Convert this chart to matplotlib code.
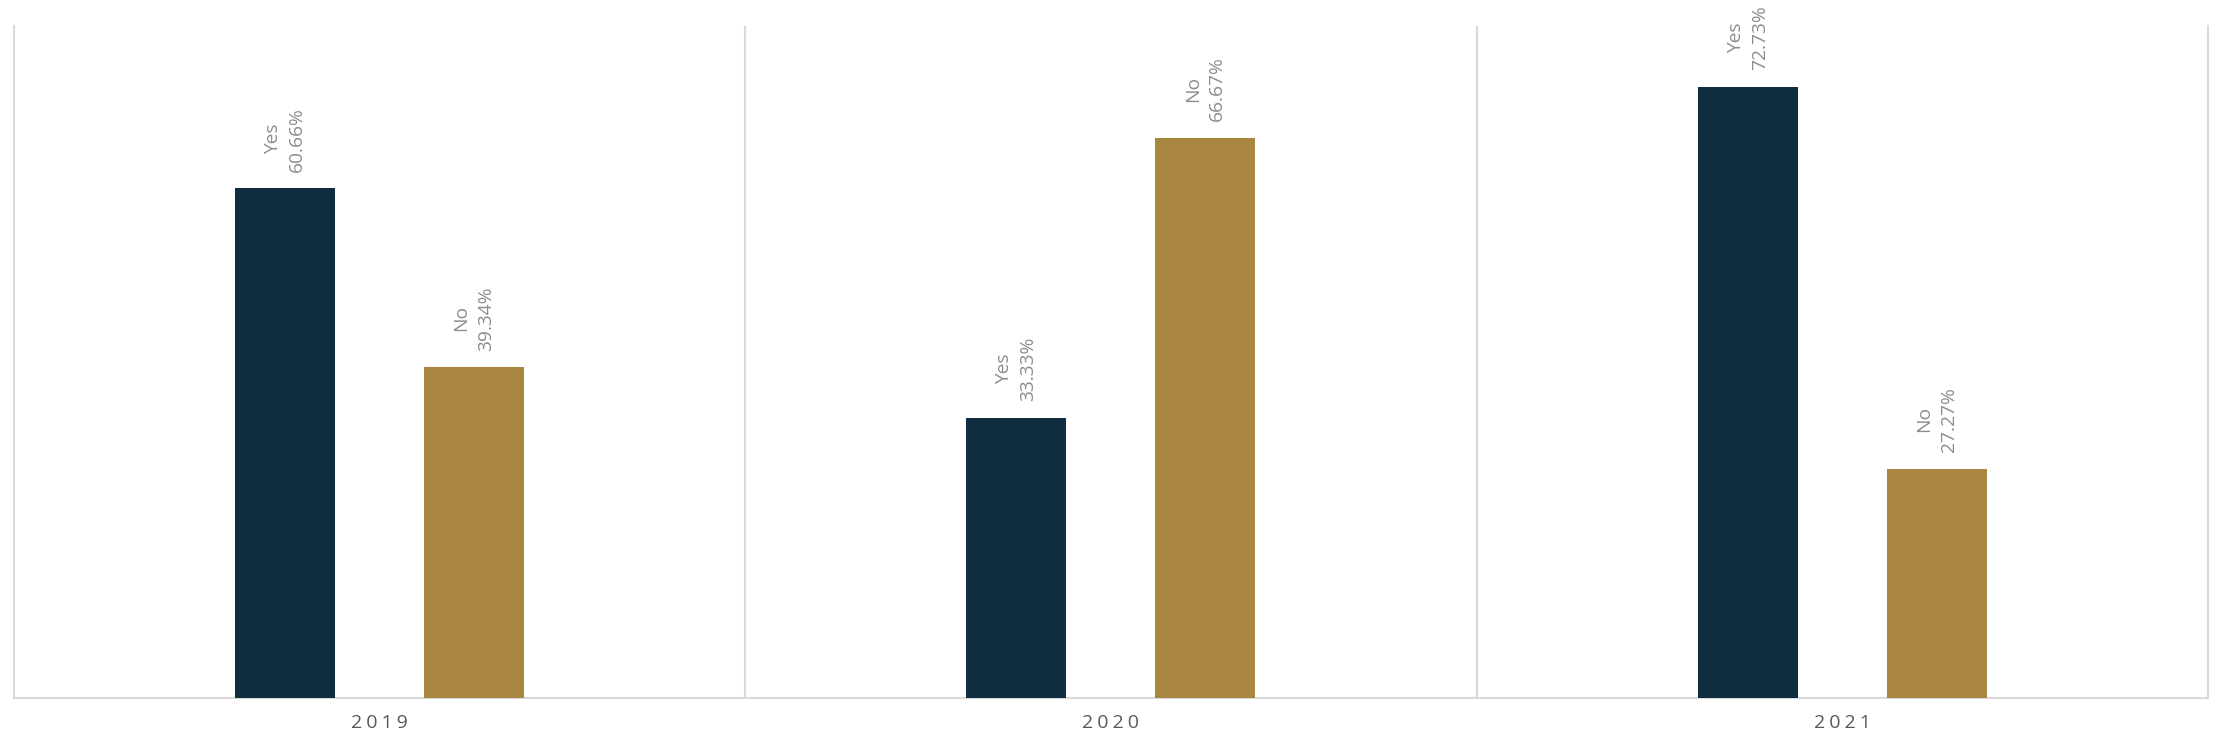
import matplotlib
matplotlib.use("Agg")
import matplotlib.pyplot as plt
import numpy as np

years = ["2019", "2020", "2021"]
series_names = ["Yes", "No"]
yes_values = [60.66, 33.33, 72.73]
no_values = [39.34, 66.67, 27.27]

navy = "#112E40"
gold = "#A98740"
label_color = "#8C8C8C"
grid_color = "#D9D9D9"

plt.rcParams['font.family'] = ['Open Sans', 'DejaVu Sans']

fig = plt.figure(figsize=(22.13, 7.38), dpi=100)
ax = fig.add_axes([13.5/2213, 1-697.5/738, (2208-13.5)/2213, (697.5-26)/738])

x = np.arange(len(years))
w = 0.137
off = 0.129
for vals, name, col, sgn in [(yes_values, series_names[0], navy, -1), (no_values, series_names[1], gold, 1)]:
    ax.bar(x + sgn*off, vals, width=w, color=col, zorder=3)
    for xi, v in zip(x, vals):
        ax.text(xi + sgn*off, v + 2.0, f"{name}\n{v:.2f}%", rotation=90,
                ha="center", va="bottom", fontsize=13.8, color=label_color,
                linespacing=1.45, clip_on=False)

ax.set_xlim(-0.5, 2.5)
ax.set_ylim(0, 80)
for s in [0.5, 1.5]:
    ax.axvline(s, color=grid_color, lw=1.5, zorder=1)
ax.spines["top"].set_visible(False)
for side in ["left", "right", "bottom"]:
    ax.spines[side].set_color(grid_color)
    ax.spines[side].set_linewidth(1.5)
ax.set_yticks([])
ax.set_xticks(x)
ax.set_xticklabels(["\u200a\u200a".join(list(y)) for y in years], fontsize=14, color="#595959")
ax.tick_params(axis="x", length=0, pad=12)

fig.savefig("out.png", dpi=100)
